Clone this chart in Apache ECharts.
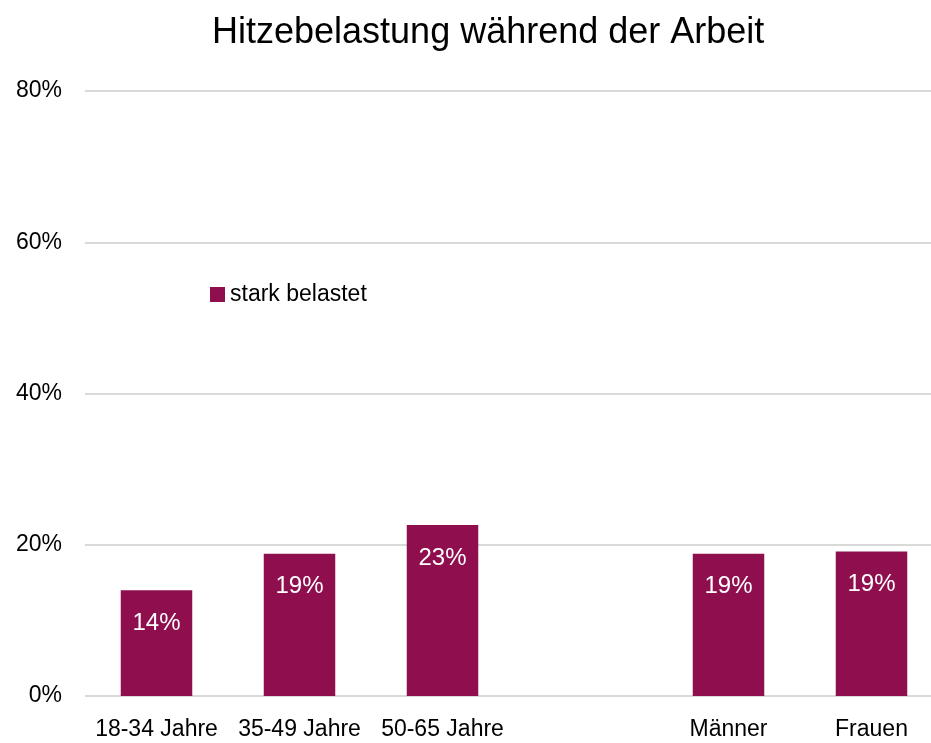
<!DOCTYPE html>
<html>
<head>
<meta charset="utf-8">
<script src="https://cdn.jsdelivr.net/npm/echarts@6/dist/echarts.min.js"></script>
<style>
    html, body { margin: 0; padding: 0; background: #fff; overflow: hidden; }
    #main { width: 943px; height: 743px; }
</style>
</head>
<body>
<div id="main"></div>
<script>
// Daten
var kategorien = ['18-34 Jahre', '35-49 Jahre', '50-65 Jahre', '', 'Männer', 'Frauen'];
var starkBelastet = [14.0, 18.8, 22.6, null, 18.8, 19.1];
var yTicks = [0, 20, 40, 60, 80];

var schrift = '"Liberation Sans Narrow", "Liberation Sans", Arial, sans-serif';
var farbe = '#8E0E4E';

// Diagrammflaeche etwas breiter als das Fenster, rechter Rand wird abgeschnitten
var myChart = echarts.init(document.getElementById('main'));

myChart.setOption({
    animation: false,
    title: {
        text: 'Hitzebelastung während der Arbeit',
        left: 207,
        top: 10,
        textStyle: { fontFamily: schrift, fontSize: 36, fontWeight: 'normal', color: '#000' }
    },
    legend: {
        left: 205,
        top: 278,
        itemWidth: 15,
        itemHeight: 15,
        icon: 'rect',
        textStyle: { fontFamily: schrift, fontSize: 23, color: '#000' },
        data: ['stark belastet']
    },
    grid: { left: 85, top: 91, right: 0, bottom: 47 },
    xAxis: {
        type: 'category',
        data: kategorien,
        axisLine: { show: false },
        axisTick: { show: false },
        axisLabel: { fontFamily: schrift, fontSize: 23, color: '#000', margin: 22, interval: 0 }
    },
    yAxis: {
        type: 'value',
        min: yTicks[0],
        max: yTicks[yTicks.length - 1],
        interval: 20,
        axisLine: { show: false },
        axisTick: { show: false },
        axisLabel: { fontFamily: schrift, fontSize: 23, color: '#000', margin: 23, formatter: '{value}%' },
        splitLine: { lineStyle: { color: '#d9d9d9', width: 2 } }
    },
    series: [{
        name: 'stark belastet',
        type: 'bar',
        data: starkBelastet,
        barCategoryGap: '50%',
        itemStyle: { color: farbe },
        label: {
            show: true,
            position: 'insideTop',
            distance: 21,
            fontFamily: schrift,
            fontSize: 24,
            color: '#fff',
            formatter: function (p) { return Math.round(p.value) + '%'; }
        }
    }]
});
</script>
</body>
</html>
